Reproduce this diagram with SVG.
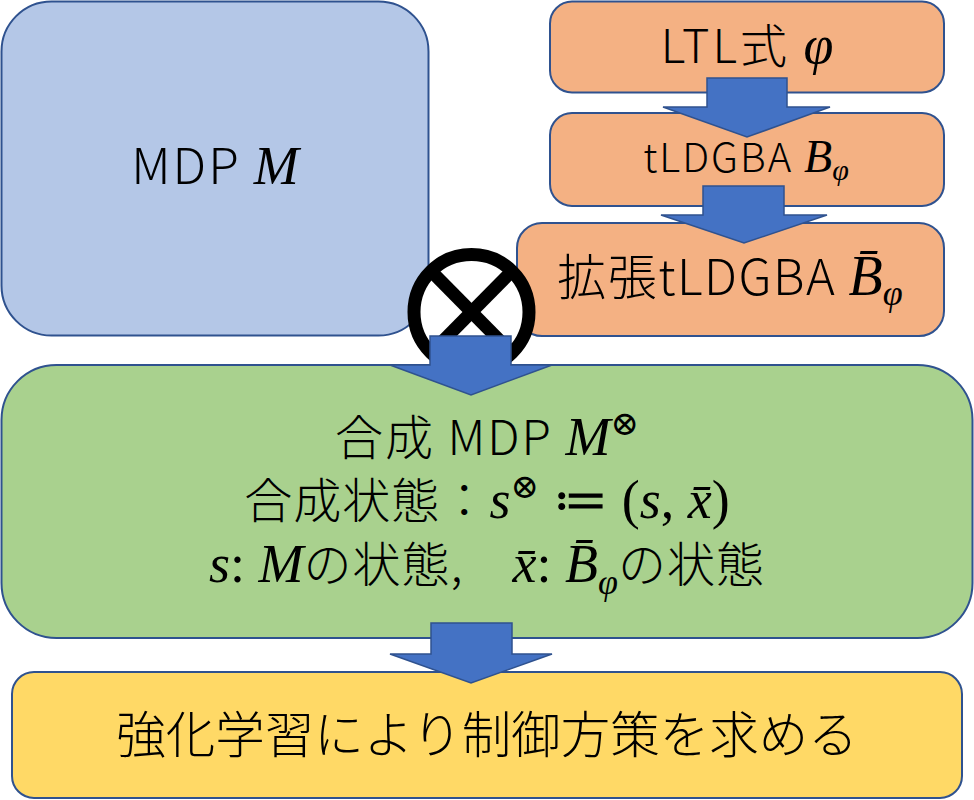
<svg xmlns="http://www.w3.org/2000/svg" width="974" height="800" viewBox="0 0 974 800">
<style>
.box{stroke:#2F528F;stroke-width:2}
.blue{fill:#B4C7E7}
.orange{fill:#F4B183}
.green{fill:#A9D18E}
.yellow{fill:#FFD966}
.arrow{fill:#4472C4;stroke:#2F528F;stroke-width:1.5}
text{font-family:"Noto Sans CJK JP","Noto Sans",sans-serif;font-weight:300;fill:#000}
.m{font-family:"Liberation Serif","DejaVu Serif",serif;font-style:italic;font-weight:400;letter-spacing:0}
.mu{font-family:"Liberation Serif","DejaVu Serif",serif;font-weight:400;letter-spacing:0}
</style>
<rect width="974" height="800" fill="#fff"/>
<g id="mdp">
<rect class="box blue" x="1.5" y="1.5" width="427" height="334" rx="50"/>
<text x="215" y="184" font-size="50" letter-spacing="2" text-anchor="middle">MDP <tspan class="m" font-size="54">M</tspan></text>
</g>
<g id="ltl">
<rect class="box orange" x="550" y="1.5" width="394" height="91" rx="22"/>
<text x="747" y="63" font-size="47" letter-spacing="3" text-anchor="middle">LTL式 <tspan class="m" font-size="54">φ</tspan></text>
</g>
<g id="tldgba">
<rect class="box orange" x="550" y="113" width="394" height="93" rx="22"/>
<text x="746" y="172" font-size="40" letter-spacing="2" text-anchor="middle">tLDGBA <tspan class="m" font-size="46">B</tspan><tspan class="m" font-size="30" dy="8">φ</tspan></text>
</g>
<g id="ext-tldgba">
<rect class="box orange" x="517" y="223" width="427" height="113" rx="25"/>
<text x="730" y="295" font-size="49" letter-spacing="1.5" text-anchor="middle">拡張tLDGBA <tspan class="m" font-size="56">B̄</tspan><tspan class="m" font-size="36" dy="10">φ</tspan></text>
</g>
<g id="product-op">
<circle cx="471.5" cy="312" r="57.5" fill="#fff" stroke="#000" stroke-width="13"/>
<line x1="431" y1="271" x2="512" y2="353" stroke="#000" stroke-width="13"/>
<line x1="512" y1="271" x2="431" y2="353" stroke="#000" stroke-width="13"/>
</g>
<g id="product-mdp">
<rect class="box green" x="1.5" y="365" width="971" height="273" rx="55"/>
<text x="487" y="455" font-size="48" letter-spacing="2" text-anchor="middle">合成 MDP <tspan class="m" font-size="54">M</tspan><tspan class="mu" font-size="34" dy="-20">⊗</tspan></text>
<text x="487" y="518" font-size="48" letter-spacing="1" text-anchor="middle">合成状態：<tspan class="m" font-size="54">s</tspan><tspan class="mu" font-size="34" dy="-20">⊗</tspan><tspan class="mu" font-size="54" dy="20"> ≔ (</tspan><tspan class="m" font-size="54">s</tspan><tspan class="mu" font-size="54">, </tspan><tspan class="m" font-size="54">x̄</tspan><tspan class="mu" font-size="54">)</tspan></text>
<text x="487" y="582" font-size="48" letter-spacing="1" text-anchor="middle"><tspan class="m" font-size="54">s</tspan><tspan class="mu" font-size="54">: </tspan><tspan class="m" font-size="54">M</tspan>の状態,　<tspan class="m" font-size="54">x̄</tspan><tspan class="mu" font-size="54">: </tspan><tspan class="m" font-size="54">B̄</tspan><tspan class="m" font-size="36" dy="12">φ</tspan><tspan dy="-12">の状態</tspan></text>
</g>
<g id="rl">
<rect class="box yellow" x="12" y="672" width="950" height="126" rx="22"/>
<text x="487" y="753" font-size="49.5" text-anchor="middle">強化学習により制御方策を求める</text>
</g>
<g id="connectors">
<polygon class="arrow" points="707,78 787,78 787,107 830,107 747,137 663,107 707,107"/>
<polygon class="arrow" points="703,186 784,186 784,215 827,215 744,243 661,215 703,215"/>
<polygon class="arrow" points="430,336 511,336 511,365 552,365 471,395 390,365 430,365"/>
<polygon class="arrow" points="431,623 512,623 512,654 552,654 471,683 390,654 431,654"/>
</g>
</svg>
